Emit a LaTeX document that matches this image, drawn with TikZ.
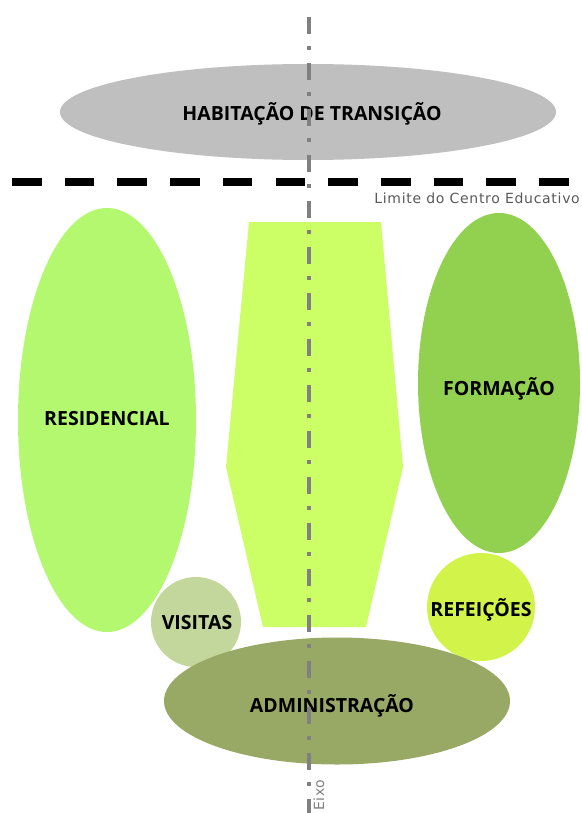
\documentclass[tikz,border=0pt]{standalone}
\usepackage{fontspec}
\setmainfont{Open Sans}
\newfontfamily\smallfont[LetterSpace=5]{DejaVu Sans}
\usetikzlibrary{shapes.geometric}
\definecolor{habc}{HTML}{BFBFBF}
\definecolor{resc}{HTML}{B3F86E}
\definecolor{corc}{HTML}{CCFF66}
\definecolor{forc}{HTML}{92D050}
\definecolor{refc}{HTML}{D2F44A}
\definecolor{visc}{HTML}{C3D69B}
\definecolor{admc}{HTML}{98A865}
\definecolor{axisc}{HTML}{808080}
\definecolor{notec}{HTML}{595959}
\tikzset{
  zone/.style={ellipse, inner sep=0pt, draw=none},
  round/.style={circle, inner sep=0pt, draw=none},
  lbl/.style={inner sep=0pt, text=black, font=\bfseries\fontsize{19.5}{22}\selectfont},
  note/.style={inner sep=0pt, text=notec, font=\smallfont\fontsize{14}{16}\selectfont},
}
\begin{document}
\begin{tikzpicture}[x=1pt,y=-1pt]
\useasboundingbox (0,0) rectangle (581,813);
\node[zone, fill=habc, minimum width=496pt, minimum height=96pt] (hab) at (308,112) {};
\node[lbl] (habt) at (312,114) {HABITAÇÃO DE TRANSIÇÃO};
\coordinate (limA) at (12,182);
\coordinate (limB) at (570,182);
\draw[line width=8pt, dash pattern=on 29.6pt off 23.1pt] (limA) -- (limB);
\node[note, anchor=base east] (lim) at (580,204) {Limite do Centro Educativo};
\node[zone, fill=resc, minimum width=178pt, minimum height=424pt] (res) at (107,420) {};
\node[lbl] (rest) at (107,419) {RESIDENCIAL};
\fill[corc] (249,222) -- (381,222) -- (403,467) -- (366,627) -- (263,627) -- (226,467) -- cycle;
\node[zone, fill=forc, minimum width=162pt, minimum height=340pt] (for) at (499,383) {};
\node[lbl] (fort) at (499,389) {FORMAÇÃO};
\node[round, fill=refc, minimum size=108pt] (ref) at (481,607) {};
\node[lbl] (reft) at (481,610) {REFEIÇÕES};
\node[round, fill=visc, minimum size=90pt] (vis) at (196,622) {};
\node[lbl] (vist) at (197,623) {VISITAS};
\node[zone, fill=admc, minimum width=346pt, minimum height=127pt] (adm) at (337,701) {};
\node[lbl] (admt) at (332,706) {ADMINISTRAÇÃO};
\coordinate (axA) at (309.3,16.7);
\coordinate (axB) at (309.3,813);
\draw[axisc, line width=4pt, dash pattern=on 17pt off 12pt on 4pt off 13pt] (axA) -- (axB);
\node[note, text=axisc, rotate=90, anchor=base west] (eixo) at (324,811) {Eixo};
\end{tikzpicture}
\end{document}
